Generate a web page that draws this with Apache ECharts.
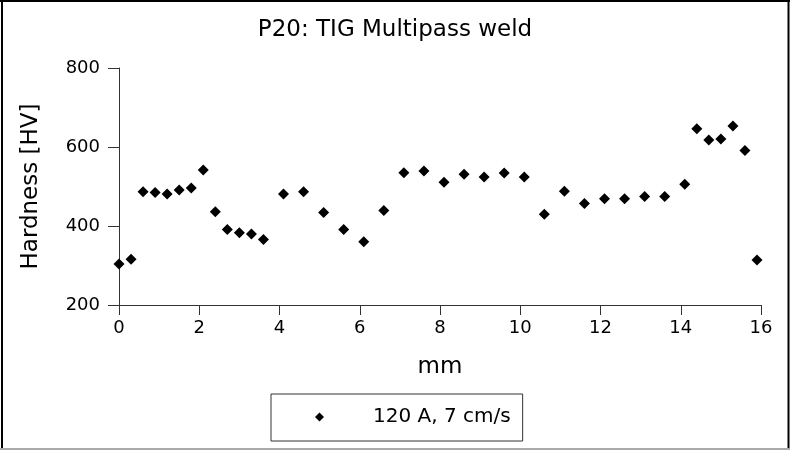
<!DOCTYPE html>
<html>
<head>
<meta charset="utf-8">
<script src="https://cdn.jsdelivr.net/npm/echarts@6/dist/echarts.min.js"></script>
<style>html,body{margin:0;padding:0;background:#fff}#c{width:790px;height:450px}</style>
</head>
<body>
<div id="c"></div>
<script>
const positionsMm = [0, 0.3, 0.6, 0.9, 1.2, 1.5, 1.8, 2.1, 2.4, 2.7, 3.0, 3.3, 3.6, 4.1, 4.6, 5.1, 5.6, 6.1, 6.6, 7.1, 7.6, 8.1, 8.6, 9.1, 9.6, 10.1, 10.6, 11.1, 11.6, 12.1, 12.6, 13.1, 13.6, 14.1, 14.4, 14.7, 15.0, 15.3, 15.6, 15.9];
const hardnessHV = [304, 316, 487, 485, 481, 491, 496, 542, 436, 391, 383, 380, 366, 481, 487, 434, 391, 360, 439, 535, 539, 511, 531, 524, 534, 524, 430, 488, 457, 469, 469, 475, 475, 506, 646, 618, 620, 653, 591, 314];
const seriesName = '120 A, 7 cm/s';
const titleText = 'P20: TIG Multipass weld';

const chart = echarts.init(document.getElementById('c'));
const font = 'DejaVu Sans';
const axisCol = '#333';
chart.setOption({
  backgroundColor: '#fff',
  animation: false,
  textStyle: { fontFamily: font },
  title: {
    text: titleText, left: 'center', top: 14,
    textStyle: { fontFamily: font, fontSize: 23, fontWeight: 'normal', color: '#000' }
  },
  grid: { left: 119, right: 29, top: 68, bottom: 145 },
  xAxis: {
    type: 'value', min: 0, max: 16, interval: 2,
    name: 'mm', nameLocation: 'middle', nameGap: 51,
    nameTextStyle: { fontFamily: font, fontSize: 23, color: '#000' },
    axisLine: { onZero: false, lineStyle: { color: axisCol, width: 1 } },
    axisTick: { length: 10, lineStyle: { color: axisCol } },
    axisLabel: { margin: 14, fontFamily: font, fontSize: 18, color: '#000' },
    splitLine: { show: false }
  },
  yAxis: {
    type: 'value', min: 200, max: 800, interval: 200,
    name: 'Hardness [HV]', nameLocation: 'middle', nameGap: 76,
    nameTextStyle: { fontFamily: font, fontSize: 23, color: '#000' },
    axisLine: { show: true, onZero: false, lineStyle: { color: axisCol, width: 1 } },
    axisTick: { show: true, length: 11, lineStyle: { color: axisCol } },
    axisLabel: { margin: 19, fontFamily: font, fontSize: 18, color: '#000' },
    splitLine: { show: false }
  },
  legend: {
    left: 271, top: 394,
    orient: 'horizontal',
    padding: [13, 12, 14, 44],
    itemWidth: 9, itemHeight: 9, itemGap: 5,
    icon: 'diamond',
    itemStyle: { color: '#000', opacity: 1 },
    borderColor: '#333', borderWidth: 1,
    textStyle: { fontFamily: font, fontSize: 20, color: '#000', padding: [0, 0, 0, 44] },
    data: [seriesName]
  },
  series: [{
    name: seriesName, type: 'scatter',
    symbol: 'diamond', symbolSize: 11,
    itemStyle: { color: '#000', opacity: 1 },
    data: positionsMm.map((x, i) => [x, hardnessHV[i]])
  }],
  graphic: [
    { type: 'line', shape: { x1: 0, y1: 1, x2: 790, y2: 1 }, style: { stroke: '#000', lineWidth: 2 } },
    { type: 'line', shape: { x1: 2, y1: 0, x2: 2, y2: 450 }, style: { stroke: '#000', lineWidth: 2 } },
    { type: 'line', shape: { x1: 788.5, y1: 0, x2: 788.5, y2: 450 }, style: { stroke: '#000', lineWidth: 2 } },
    { type: 'line', shape: { x1: 0, y1: 449, x2: 790, y2: 449 }, style: { stroke: '#aaa', lineWidth: 2 } }
  ]
});
</script>
</body>
</html>
